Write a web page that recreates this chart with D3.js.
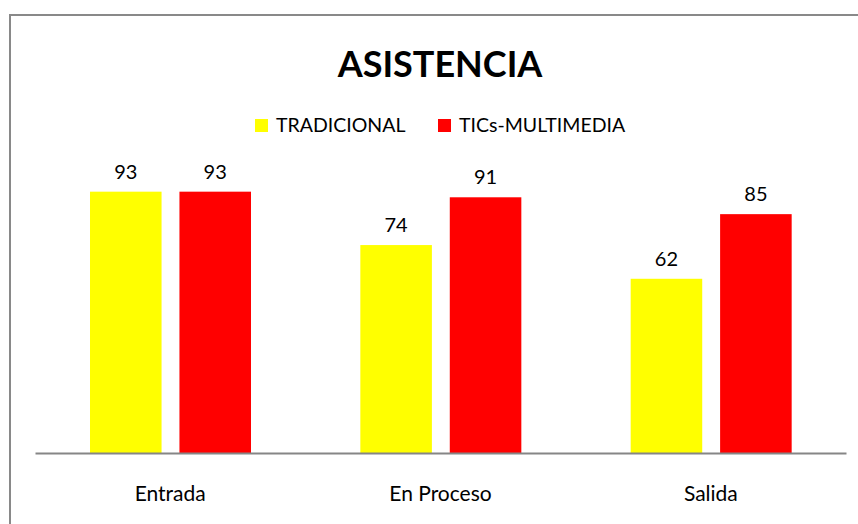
<!DOCTYPE html>
<html>
<head>
<meta charset="utf-8">
<script src="https://cdn.jsdelivr.net/npm/d3@7"></script>
<style>
  body { margin: 0; background: #fff; }
  text { font-family: Lato, "Open Sans", sans-serif; fill: #000; }
</style>
</head>
<body>
<svg width="858" height="524"></svg>
<script>
"use strict";

// Data
const categories = ["Entrada", "En Proceso", "Salida"];
const seriesNames = ["TRADICIONAL", "TICs-MULTIMEDIA"];
const tradicional = [93, 74, 62];
const multimedia = [93, 91, 85];
const colors = ["#ffff00", "#ff0000"];

const rows = categories.map((c, i) => ({ cat: c, values: [tradicional[i], multimedia[i]] }));

const svg = d3.select("svg");

// chart border
svg.append("rect")
  .attr("x", 10).attr("y", 15)
  .attr("width", 860).attr("height", 520)
  .attr("fill", "none")
  .attr("stroke", "#898989")
  .attr("stroke-width", 2);

// Scales
const plot = { l: 35, r: 846, t: 172, b: 453 };

const x0 = d3.scaleBand()
  .domain(categories)
  .range([plot.l, plot.r])
  .paddingInner(0)
  .paddingOuter(0);

const x1 = d3.scaleBand()
  .domain([0, 1])
  .range([55, 216])
  .paddingInner(0.2);

const y = d3.scaleLinear()
  .domain([0, 100])
  .range([plot.b, plot.t]);

// bars
const groups = svg.append("g").selectAll("g")
  .data(rows)
  .join("g")
    .attr("transform", d => `translate(${x0(d.cat)},0)`);

groups.selectAll("rect")
  .data(d => d.values)
  .join("rect")
    .attr("x", (d, i) => x1(i))
    .attr("y", d => y(d))
    .attr("width", x1.bandwidth())
    .attr("height", d => y(0) - y(d))
    .attr("fill", (d, i) => colors[i]);

groups.selectAll("text")
  .data(d => d.values)
  .join("text")
    .attr("x", (d, i) => x1(i) + x1.bandwidth() / 2)
    .attr("y", d => y(d) - 13)
    .attr("text-anchor", "middle")
    .attr("font-size", 20)
    .text(d => d);

// x axis
const xAxis = svg.append("g")
  .attr("transform", `translate(0,${plot.b})`)
  .call(d3.axisBottom(x0).tickSize(0).tickPadding(33));
xAxis.select(".domain").attr("stroke", "#868686").attr("stroke-width", 2);
xAxis.selectAll("text")
  .attr("font-size", 21)
  .attr("font-family", "Lato, sans-serif")
  .attr("fill", "#000");

// title
svg.append("text")
  .attr("x", 440)
  .attr("y", 77)
  .attr("text-anchor", "middle")
  .attr("font-size", 36)
  .attr("font-weight", "bold")
  .text("ASISTENCIA");

// legend
const legendX = [255, 438];
const legend = svg.append("g").selectAll("g")
  .data(seriesNames)
  .join("g")
    .attr("transform", (d, i) => `translate(${legendX[i]},119)`);
legend.append("rect")
  .attr("width", 13).attr("height", 13)
  .attr("fill", (d, i) => colors[i]);
legend.append("text")
  .attr("x", 21).attr("y", 13)
  .attr("font-size", 19.5)
  .text(d => d);
</script>
</body>
</html>
